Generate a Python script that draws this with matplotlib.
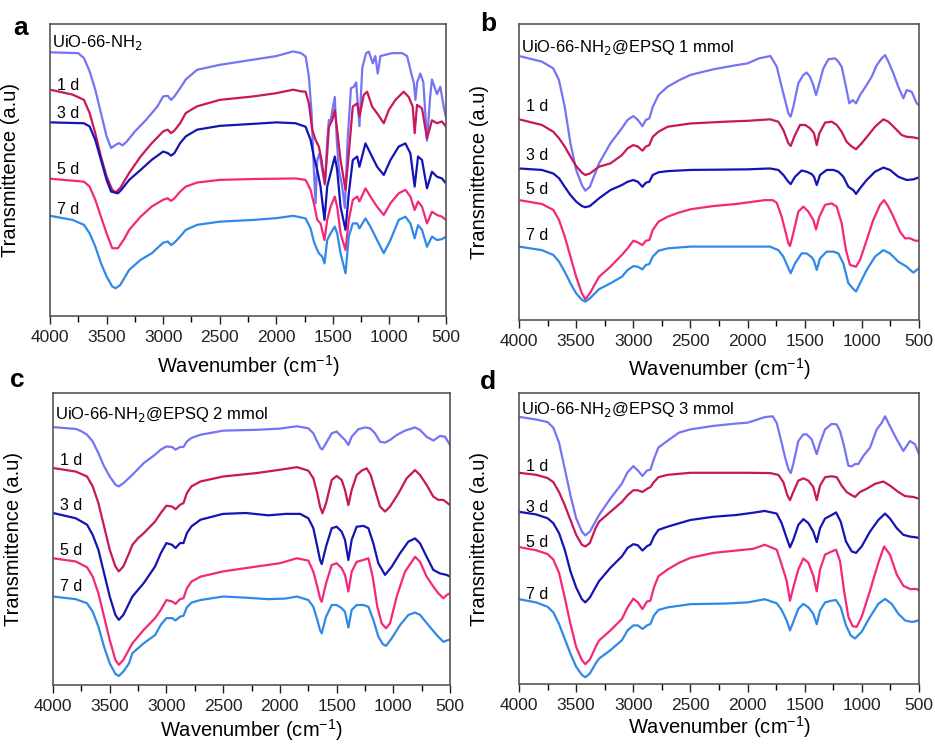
import numpy as np
import matplotlib
matplotlib.use("Agg")
import matplotlib.pyplot as plt
from matplotlib.ticker import MultipleLocator

plt.rcParams['font.family'] = ['Liberation Sans', 'DejaVu Sans']

# FTIR spectra: (wavenumber, transmittance a.u. 0-100)
# panel a: UiO-66-NH2
a_0d = [(4000, 90.3), (3750, 90), (3700, 88.3), (3650, 83.8), (3600, 77.5), (3550, 69.5), (3500, 61.5),
        (3460, 57.5), (3420, 58.6), (3390, 59.2), (3360, 58.4), (3320, 59.8), (3250, 63.2), (3150, 67.2),
        (3050, 71.8), (3000, 75.2), (2960, 75.4), (2930, 74), (2900, 75.2), (2850, 78), (2800, 81),
        (2700, 84.3), (2500, 86), (2200, 87.8), (2000, 89), (1850, 90.6), (1780, 90), (1740, 88.8),
        (1712, 82), (1688, 69.4), (1668, 50), (1653, 38.6), (1638, 53.4), (1618, 55.7), (1594, 50),
        (1570, 45), (1550, 60), (1535, 67.1), (1520, 67), (1483, 75), (1465, 60), (1447, 50), (1420, 45),
        (1394, 37), (1370, 60), (1340, 78), (1315, 78.5), (1294, 80), (1265, 65), (1240, 85), (1206, 90),
        (1182, 90.5), (1147, 86.5), (1125, 89), (1103, 83), (1080, 89), (977, 90), (888, 90), (844, 89),
        (800, 82), (785, 80), (770, 74), (755, 80), (727, 83), (700, 80), (668, 60), (640, 75), (624, 81),
        (580, 76), (550, 78.5), (515, 70.5), (500, 68)]
a_1d = [(4000, 77.5), (3800, 75.8), (3700, 74), (3650, 69.5), (3600, 62.6), (3550, 54.6), (3500, 47.8),
        (3450, 43.2), (3420, 42.3), (3380, 43.8), (3300, 49), (3200, 54.6), (3100, 59.2), (3000, 63.2),
        (2960, 63.8), (2930, 62.6), (2900, 63.5), (2850, 66), (2800, 69.5), (2700, 71.8), (2500, 74),
        (2200, 75.2), (2000, 76.3), (1850, 77.5), (1780, 76.9), (1741, 76.8), (1712, 72.8), (1682, 63.7),
        (1653, 60.3), (1624, 58), (1600, 53.4), (1571, 45.4), (1550, 55.7), (1535, 64.8), (1506, 67),
        (1483, 70.5), (1462, 63.7), (1432, 53.4), (1388, 43.2), (1359, 55.7), (1324, 71.7), (1285, 72.8),
        (1265, 68.3), (1227, 75.7), (1197, 76.8), (1153, 71.7), (1109, 69.4), (1050, 66), (1006, 70.5),
        (947, 74), (874, 76.8), (830, 75), (794, 71.7), (777, 62.6), (756, 72.3), (712, 71.1), (668, 60.8),
        (624, 67), (580, 66), (536, 66.6), (500, 64.8)]
a_3d = [(4000, 66.3), (3700, 66), (3650, 64.9), (3600, 60.3), (3550, 53.5), (3500, 46.6), (3460, 42.6),
        (3400, 42), (3370, 43.2), (3300, 46.6), (3200, 50), (3100, 53.5), (3000, 56.3), (2960, 55.8),
        (2930, 54.9), (2900, 55.8), (2850, 59.2), (2800, 61.5), (2700, 63.8), (2500, 65.1), (2200, 65.8),
        (2000, 66.3), (1830, 66), (1741, 64.8), (1697, 60.3), (1668, 54.6), (1638, 50), (1609, 44.3),
        (1574, 32.9), (1550, 44.3), (1520, 48.9), (1483, 54.6), (1462, 50), (1432, 37.4), (1388, 29.5),
        (1359, 42), (1324, 53.4), (1285, 54.6), (1265, 51.1), (1212, 59.1), (1168, 55.7), (1109, 51.1),
        (1050, 48.3), (991, 53.4), (918, 58), (859, 59.1), (815, 55.7), (777, 44.3), (747, 54.6),
        (712, 53.4), (668, 43.7), (624, 49.4), (580, 47.7), (536, 47.1), (500, 45.4)]
a_5d = [(4000, 47), (3700, 46), (3650, 44.3), (3600, 39.8), (3550, 34), (3500, 28.3), (3450, 23.2),
        (3400, 23.2), (3350, 26), (3300, 29.5), (3200, 34), (3100, 37.5), (3000, 39.8), (2960, 40.3),
        (2930, 39.4), (2900, 40.3), (2850, 42.6), (2800, 44.3), (2700, 45.7), (2500, 46.6), (2200, 46.9),
        (1830, 47.1), (1741, 46.6), (1697, 43.2), (1668, 38.6), (1638, 32.9), (1609, 31.7), (1574, 26),
        (1550, 32.9), (1520, 37.4), (1483, 40.9), (1462, 37.4), (1432, 28.3), (1388, 22.6), (1359, 32.9),
        (1324, 39.7), (1285, 40.9), (1265, 39.2), (1212, 43.7), (1168, 40.9), (1109, 37.4), (1050, 34.6),
        (991, 38.6), (918, 42), (859, 43.2), (815, 40.9), (777, 36.3), (747, 39.2), (712, 37.4),
        (668, 31.7), (624, 35.7), (580, 34.6), (536, 34), (500, 32.9)]
a_7d = [(4000, 34.3), (3800, 32.9), (3700, 31.2), (3650, 28.3), (3600, 23.8), (3550, 18.1), (3500, 13.5),
        (3450, 10.1), (3420, 9.5), (3380, 10.6), (3300, 15.8), (3200, 19.2), (3100, 21.5), (3000, 25.1),
        (2960, 25.5), (2930, 24.3), (2900, 25.1), (2850, 27.2), (2800, 29.5), (2700, 31.2), (2500, 32.3),
        (2200, 32.9), (2000, 33.5), (1850, 34.3), (1741, 33.4), (1697, 30), (1668, 25.5), (1638, 22.6),
        (1624, 21.5), (1594, 20.3), (1574, 18), (1550, 26), (1520, 28.3), (1483, 30.6), (1462, 28.3),
        (1432, 21.5), (1388, 14.6), (1359, 27.2), (1324, 31.7), (1285, 31.7), (1265, 30), (1212, 33.4),
        (1168, 30.6), (1109, 26), (1050, 21.5), (991, 26), (918, 32.9), (859, 34), (815, 31.7), (777, 26.6),
        (747, 31.1), (712, 29.5), (668, 23.7), (624, 27.2), (580, 26), (536, 26.3), (500, 27.2)]

# panel b: UiO-66-NH2@EPSQ 1 mmol
b_0d = [(4000, 89.2), (3800, 87.3), (3700, 85), (3650, 81), (3600, 72), (3550, 59.7), (3500, 50.7),
        (3450, 45.6), (3420, 43.7), (3380, 45), (3300, 52.9), (3200, 59.7), (3100, 64.8), (3050, 67.6),
        (3000, 68.9), (2960, 67.6), (2920, 65.5), (2890, 67.6), (2860, 68.1), (2830, 72), (2780, 76),
        (2700, 78.8), (2600, 81), (2500, 82.8), (2300, 84.7), (2100, 86.1), (2000, 86.7), (1900, 88.4),
        (1800, 89.2), (1745, 85.6), (1702, 78.8), (1672, 74.3), (1643, 69.8), (1623, 68.7), (1600, 72),
        (1556, 80), (1512, 82.8), (1483, 83.6), (1454, 82.2), (1425, 79.4), (1401, 76), (1381, 78.8),
        (1337, 85), (1293, 88.1), (1235, 88.4), (1206, 87.3), (1177, 85.6), (1139, 78.8), (1110, 73.2),
        (1080, 74.3), (1051, 73.2), (1016, 76), (958, 79.4), (914, 82.2), (870, 86.1), (827, 88.4),
        (797, 89.5), (768, 87.3), (724, 83.3), (681, 78.8), (637, 74.9), (608, 77.7), (564, 77.1),
        (520, 73.2), (500, 72.6)]
b_1d = [(4000, 67.8), (3800, 65.9), (3700, 63.6), (3650, 61.4), (3600, 58.6), (3550, 55.2), (3500, 52),
        (3450, 49.8), (3420, 49), (3380, 49.5), (3300, 51.8), (3200, 52.9), (3100, 55.7), (3050, 58),
        (3000, 59.1), (2960, 58.6), (2920, 57.2), (2890, 58.6), (2860, 59.1), (2830, 61.9), (2780, 63.6),
        (2700, 65.3), (2500, 66.4), (2200, 67), (2000, 67.3), (1804, 67.8), (1731, 67), (1687, 64.2),
        (1643, 59.7), (1623, 58.8), (1585, 62.5), (1541, 65.9), (1497, 65.9), (1454, 64.8), (1419, 63.1),
        (1395, 59.1), (1372, 63.1), (1322, 66.7), (1264, 67), (1220, 65.9), (1177, 63.6), (1133, 60.2),
        (1089, 58.6), (1051, 57.7), (1002, 59.7), (943, 62.5), (885, 65.3), (812, 67.8), (768, 67),
        (710, 64.8), (652, 62.5), (608, 61.9), (550, 61.7), (500, 61.3)]
b_3d = [(4000, 51.2), (3800, 50.7), (3700, 49.5), (3650, 47.9), (3600, 45), (3550, 42.2), (3500, 40),
        (3450, 38.5), (3420, 38.1), (3380, 38.5), (3300, 41.1), (3200, 43.9), (3100, 45.6), (3050, 46.7),
        (3000, 47.3), (2960, 46.7), (2920, 45), (2890, 46.4), (2860, 46.7), (2830, 49), (2780, 49.9),
        (2700, 50.3), (2500, 50.7), (2000, 50.9), (1804, 51.2), (1731, 50.7), (1687, 49), (1643, 46.7),
        (1623, 45.9), (1585, 48.4), (1527, 50.5), (1483, 50.1), (1439, 49.3), (1419, 48.4), (1395, 45.6),
        (1366, 49), (1308, 50.7), (1250, 50.7), (1206, 50.1), (1162, 48.4), (1118, 45), (1075, 43.9),
        (1051, 42.6), (1016, 44.5), (958, 47.3), (885, 50.1), (812, 51.5), (754, 50.7), (681, 48.4),
        (608, 47.3), (550, 47.5), (500, 48.2)]
b_5d = [(4000, 40.5), (3800, 39.2), (3700, 37.2), (3650, 33.8), (3600, 28.2), (3550, 21.4), (3500, 14.6),
        (3450, 9), (3420, 7), (3380, 9), (3300, 14.6), (3200, 18), (3100, 22), (3050, 24.2), (3000, 26.8),
        (2960, 26.2), (2920, 25.3), (2890, 26.8), (2860, 27), (2830, 30.4), (2780, 33.2), (2700, 34.9),
        (2600, 36.3), (2500, 37.4), (2300, 38.5), (2100, 39.2), (1850, 40.5), (1780, 40.5), (1745, 39.6),
        (1702, 34.9), (1672, 30.4), (1643, 25.9), (1629, 25), (1600, 29.3), (1556, 36.6), (1512, 38.3),
        (1468, 36.6), (1425, 33.8), (1401, 30.6), (1372, 34.9), (1322, 38.9), (1264, 39.4), (1220, 38.3),
        (1177, 32.7), (1139, 23.6), (1104, 18.6), (1051, 18), (1016, 20.3), (958, 27), (900, 33.8),
        (841, 38.9), (806, 40.5), (768, 38.3), (724, 34.9), (666, 29.8), (622, 27.6), (579, 27.6),
        (535, 26.8), (500, 26.8)]
b_7d = [(4000, 24.8), (3800, 23.6), (3700, 22), (3650, 19.7), (3600, 16.3), (3550, 12.4), (3500, 9),
        (3450, 6.8), (3420, 6.2), (3380, 7.3), (3300, 10.4), (3200, 12.4), (3100, 14.6), (3050, 16.9),
        (3000, 18.2), (2960, 18), (2920, 17.1), (2890, 18.6), (2860, 18.9), (2830, 21.4), (2780, 23.4),
        (2700, 24.2), (2500, 24.8), (2000, 24.8), (1804, 24.8), (1731, 23.6), (1687, 21.4), (1643, 17.5),
        (1623, 15.8), (1585, 19.1), (1527, 22.5), (1483, 22.5), (1439, 21.2), (1419, 20), (1395, 16.9),
        (1366, 20.8), (1308, 23.1), (1250, 23.1), (1206, 22.5), (1162, 19.1), (1118, 12.4), (1080, 10.7),
        (1051, 9.6), (1016, 12.4), (958, 16.9), (885, 21.4), (812, 23.6), (754, 22.5), (681, 19.7),
        (608, 18), (550, 16), (500, 17.5)]

# panel c: UiO-66-NH2@EPSQ 2 mmol
c_0d = [(4000, 88.3), (3800, 87.7), (3750, 86.9), (3700, 85.7), (3650, 83.4), (3600, 79.4), (3550, 74.9),
        (3500, 71.4), (3450, 68.6), (3420, 68), (3380, 69.1), (3300, 72), (3200, 76), (3100, 78.9),
        (3050, 80.6), (3000, 81.7), (2950, 81.5), (2920, 80.6), (2880, 81.5), (2850, 81.5), (2820, 83.4),
        (2780, 84.6), (2700, 85.7), (2500, 87.1), (2200, 87.4), (2000, 87.8), (1850, 88.6), (1749, 87.9),
        (1705, 86.2), (1670, 83.3), (1640, 81), (1625, 80.7), (1593, 82.8), (1543, 86.2), (1499, 86.8),
        (1455, 85), (1426, 83.9), (1396, 82.2), (1367, 85), (1308, 87.6), (1249, 88.2), (1205, 87.9),
        (1161, 86.2), (1117, 83.3), (1073, 83), (1029, 83.9), (970, 85.6), (897, 87.1), (808, 88.2),
        (764, 87.3), (706, 85), (647, 83.7), (588, 85.3), (544, 85), (500, 82.2)]
c_1d = [(4000, 74.3), (3800, 73.1), (3700, 71.4), (3650, 68), (3600, 62.3), (3550, 54.3), (3500, 46.3),
        (3450, 40.6), (3420, 38.9), (3380, 40.6), (3330, 45.1), (3300, 48), (3250, 50.3), (3200, 52),
        (3100, 56), (3050, 58.9), (3000, 61.4), (2950, 61.1), (2920, 60.2), (2880, 61.7), (2850, 62.3),
        (2820, 65.7), (2780, 68), (2700, 69.7), (2500, 71.4), (2200, 72.6), (2000, 73.7), (1850, 74.6),
        (1749, 73.4), (1705, 70.8), (1670, 65.6), (1646, 61.1), (1625, 58.8), (1593, 62.2), (1543, 70.2),
        (1499, 71.6), (1455, 70.2), (1426, 66.8), (1396, 61.6), (1367, 66.8), (1323, 71.9), (1279, 73.4),
        (1235, 74.2), (1199, 71.9), (1161, 66.8), (1117, 61.1), (1073, 59.4), (1029, 61.1), (955, 65.6),
        (882, 70.8), (808, 73.6), (764, 71.9), (706, 68.5), (647, 64.5), (603, 63.4), (559, 63.4),
        (500, 61.6)]
c_3d = [(4000, 58.9), (3800, 57.1), (3700, 54.9), (3650, 51.4), (3600, 46.3), (3550, 38.3), (3500, 30.3),
        (3450, 24), (3420, 22.3), (3380, 24), (3300, 30.3), (3200, 34.9), (3100, 40.6), (3050, 45.1),
        (3000, 48.6), (2950, 48), (2920, 46.9), (2880, 48.6), (2850, 48.6), (2820, 52), (2780, 54.3),
        (2700, 56.6), (2500, 58.6), (2300, 58.9), (2100, 58.1), (1950, 58.6), (1822, 58.6), (1749, 57.1),
        (1705, 53.7), (1670, 47.4), (1646, 42.8), (1631, 41.4), (1593, 47.4), (1543, 53.7), (1499, 54.2),
        (1455, 52.5), (1426, 49.7), (1396, 42.8), (1367, 49.7), (1323, 54.2), (1264, 54.5), (1220, 53.7),
        (1176, 48.5), (1132, 41.7), (1073, 37.7), (1014, 40.5), (941, 45.1), (867, 49.1), (808, 50.2),
        (764, 48.5), (706, 43.9), (647, 39.4), (588, 38.2), (529, 37.7), (500, 37.1)]
c_5d = [(4000, 43.4), (3800, 42.3), (3700, 40.3), (3650, 37.1), (3600, 31.4), (3550, 23.4), (3500, 15.4),
        (3450, 8.6), (3420, 6.9), (3380, 8.6), (3300, 14.3), (3250, 16.6), (3200, 18.9), (3100, 22.9),
        (3050, 25.7), (3000, 29.1), (2950, 28.6), (2920, 27.8), (2880, 29.4), (2850, 29.7), (2820, 33.1),
        (2780, 35.4), (2700, 37.1), (2500, 38.9), (2200, 40.6), (2000, 41.7), (1850, 43.4), (1749, 42.6),
        (1705, 38.8), (1670, 33.7), (1646, 29.7), (1631, 28.5), (1593, 34.8), (1543, 41.1), (1499, 41.7),
        (1455, 40), (1426, 37.7), (1396, 32), (1367, 38.8), (1323, 42.2), (1264, 42.8), (1220, 43.4),
        (1182, 37.1), (1141, 26.8), (1102, 21.1), (1064, 19.4), (1029, 21.1), (970, 30.3), (897, 38.8),
        (808, 43.9), (764, 42.2), (706, 37.1), (647, 33.7), (603, 31.4), (559, 29.7), (529, 30.8),
        (500, 31.4)]
c_7d = [(4000, 30.3), (3800, 29.4), (3700, 28), (3650, 25.1), (3600, 20), (3550, 13.1), (3500, 7.4),
        (3450, 3.8), (3420, 3.1), (3380, 4.6), (3330, 7.4), (3300, 10.9), (3200, 14.3), (3100, 17.1),
        (3050, 20.6), (3000, 22.9), (2950, 22.9), (2920, 22.1), (2880, 23.4), (2850, 23.7), (2820, 26.6),
        (2780, 28.2), (2700, 29.1), (2500, 30.3), (2300, 29.9), (2100, 29.4), (1950, 29.6), (1850, 30.3),
        (1749, 29.1), (1705, 26.8), (1670, 22.3), (1646, 18.8), (1631, 17.7), (1593, 23.4), (1543, 27.4),
        (1499, 27.4), (1455, 26.3), (1426, 25.1), (1396, 19.7), (1367, 25.7), (1323, 27.4), (1264, 27.4),
        (1220, 26.8), (1176, 22.3), (1132, 16.6), (1093, 14), (1064, 13.4), (1014, 16), (941, 20.5),
        (867, 24), (808, 24.8), (764, 24), (691, 20.5), (617, 17.1), (559, 14.8), (500, 15.6)]

# panel d: UiO-66-NH2@EPSQ 3 mmol
d_0d = [(4000, 91.8), (3850, 90.9), (3750, 90), (3700, 88.1), (3650, 83), (3600, 74), (3550, 64.9),
        (3500, 57), (3450, 52.4), (3420, 51.1), (3380, 52.4), (3300, 58.1), (3200, 63.8), (3100, 68.9),
        (3050, 72.8), (3000, 74.9), (2960, 73.4), (2920, 71.5), (2880, 73.4), (2850, 73.7), (2820, 77.3),
        (2780, 81.3), (2700, 83.6), (2600, 86.4), (2500, 87.5), (2300, 88.7), (2100, 89.5), (2000, 89.8),
        (1850, 91.7), (1780, 92), (1745, 89.7), (1702, 82.9), (1672, 77.9), (1643, 73.9), (1623, 72.5),
        (1600, 75.6), (1556, 83.5), (1512, 85.8), (1483, 85.8), (1439, 84.1), (1410, 80.7), (1395, 79),
        (1366, 82.9), (1322, 87.5), (1264, 89.4), (1220, 89.2), (1191, 86.9), (1156, 81.8), (1118, 75),
        (1089, 74.8), (1060, 75.6), (1031, 75.6), (987, 78.4), (929, 81.2), (870, 87.5), (827, 89.7),
        (797, 92), (754, 88.6), (695, 84.1), (637, 80.1), (579, 83.5), (535, 82.4), (500, 79)]
d_1d = [(4000, 72.6), (3850, 71.9), (3750, 70.8), (3700, 69.4), (3650, 66), (3600, 61.5), (3550, 56.4),
        (3500, 51.3), (3450, 47.9), (3420, 47.3), (3380, 48.5), (3330, 53.6), (3300, 55.8), (3200, 59.2),
        (3100, 62.6), (3050, 64.9), (3000, 66.6), (2960, 66.6), (2920, 66), (2880, 67.1), (2850, 67.7),
        (2820, 69.4), (2780, 71.1), (2700, 71.9), (2500, 72.6), (2000, 72.6), (1804, 72.5), (1731, 71.9),
        (1687, 69.4), (1652, 64.9), (1629, 63.2), (1600, 66), (1556, 69.9), (1512, 70.7), (1468, 69.9),
        (1425, 67.7), (1395, 63.2), (1366, 68.2), (1322, 71.1), (1264, 71.4), (1220, 71.1), (1177, 68.2),
        (1133, 66), (1089, 64.9), (1060, 64.3), (1016, 66), (958, 67.1), (885, 68.8), (812, 69.6),
        (754, 68.2), (681, 66), (622, 64.6), (550, 64.3), (500, 63.7)]
d_3d = [(4000, 59.2), (3850, 58.3), (3750, 57), (3700, 55.3), (3650, 51.9), (3600, 46.2), (3550, 38.8),
        (3500, 33.2), (3450, 29.2), (3420, 28.1), (3380, 29.8), (3300, 35.4), (3200, 40), (3100, 43.9),
        (3050, 46.8), (3000, 48.1), (2960, 47.7), (2920, 45.9), (2880, 47.4), (2850, 48), (2820, 50.7),
        (2780, 53), (2700, 54.1), (2500, 56.4), (2300, 57.5), (2100, 58.1), (1950, 58.9), (1850, 59.5),
        (1745, 58.6), (1702, 55.3), (1658, 50.2), (1629, 47), (1600, 49.6), (1556, 54.7), (1512, 56.7),
        (1468, 55.3), (1425, 52.4), (1395, 48.8), (1366, 53.6), (1322, 56.9), (1264, 58.1), (1226, 59),
        (1185, 55.8), (1139, 49), (1089, 45.6), (1051, 45.1), (1002, 47.3), (929, 52.4), (856, 56.4),
        (797, 58.6), (754, 56.9), (695, 53.6), (637, 51.3), (579, 50.7), (520, 50.4), (500, 50.2)]
d_5d = [(4000, 47.1), (3850, 46), (3750, 44.7), (3700, 42.8), (3650, 38.3), (3600, 29.8), (3550, 20.7),
        (3500, 12.8), (3450, 8.3), (3420, 6.9), (3380, 8.5), (3330, 12.8), (3300, 15), (3200, 18.5),
        (3100, 22.4), (3050, 26.4), (3000, 29.4), (2960, 28.1), (2920, 25.8), (2880, 28.4), (2850, 28.7),
        (2820, 33.2), (2780, 37.1), (2700, 39.4), (2600, 41.7), (2500, 43.4), (2300, 45.1), (2100, 45.9),
        (1950, 46.5), (1850, 47.9), (1745, 46.2), (1702, 41.1), (1658, 35.5), (1629, 28.7), (1600, 33.2),
        (1556, 39.4), (1512, 43.2), (1468, 41.7), (1425, 37.2), (1395, 31.9), (1366, 39.4), (1322, 44.5),
        (1264, 45.6), (1226, 46.2), (1191, 42.3), (1156, 32.1), (1118, 23.1), (1080, 19.9), (1045, 19.7),
        (1002, 23.1), (929, 32.1), (856, 41.7), (806, 47.3), (754, 44.5), (695, 37.7), (637, 33.8),
        (579, 32.7), (520, 32.7), (500, 32.1)]
d_7d = [(4000, 29.2), (3850, 28.1), (3750, 26.6), (3700, 24.7), (3650, 20.7), (3600, 15.6), (3550, 10.5),
        (3500, 6), (3450, 3.2), (3420, 2.4), (3380, 3.7), (3330, 7.1), (3300, 8.8), (3200, 11.7),
        (3100, 15.1), (3050, 18.5), (3000, 20.2), (2960, 20.2), (2920, 19), (2880, 20.2), (2850, 20.7),
        (2820, 23.6), (2780, 25.5), (2700, 26.4), (2500, 27.5), (2200, 27.7), (2000, 28.1), (1850, 29.2),
        (1745, 27.8), (1702, 25.5), (1658, 21.9), (1629, 18.5), (1600, 21.4), (1556, 25.9), (1512, 27.6),
        (1468, 26.4), (1425, 24.2), (1395, 20.6), (1366, 25.3), (1322, 28.1), (1264, 28.7), (1226, 28.9),
        (1185, 26.4), (1139, 20.2), (1098, 16.8), (1060, 15.7), (1002, 18), (929, 23.1), (856, 27.6),
        (797, 29.3), (739, 27.6), (681, 24.2), (622, 21.9), (564, 21.4), (520, 21.7), (500, 22.1)]

days = ['1 d', '3 d', '5 d', '7 d']
titles = ['UiO-66-NH$_2$', 'UiO-66-NH$_2$@EPSQ 1 mmol',
          'UiO-66-NH$_2$@EPSQ 2 mmol', 'UiO-66-NH$_2$@EPSQ 3 mmol']
letters = ['a', 'b', 'c', 'd']
colors = ['#7474F4', '#C8175C', '#1414B4', '#F4287A', '#2E8AE6']

panels = [
    dict(curves=[a_0d, a_1d, a_3d, a_5d, a_7d], rect=[0.0535, 0.5753, 0.4235, 0.3925],
         dlab=[0.79, 0.695, 0.50, 0.366], tlab=0.935, letter=(0.022, 0.962), pad=6),
    dict(curves=[b_0d, b_1d, b_3d, b_5d, b_7d], rect=[0.5551, 0.5699, 0.4278, 0.3978],
         dlab=[0.72, 0.557, 0.44, 0.284], tlab=0.922, letter=(0.522, 0.968), pad=5),
    dict(curves=[c_0d, c_1d, c_3d, c_5d, c_7d], rect=[0.0567, 0.0793, 0.4246, 0.3925],
         dlab=[0.77, 0.613, 0.462, 0.336], tlab=0.925, letter=(0.018, 0.489), pad=2),
    dict(curves=[d_0d, d_1d, d_3d, d_5d, d_7d], rect=[0.5551, 0.0803, 0.4278, 0.3915],
         dlab=[0.749, 0.607, 0.485, 0.308], tlab=0.942, letter=(0.522, 0.486), pad=1),
]

fig = plt.figure(figsize=(9.35, 7.44), dpi=100)

for i, p in enumerate(panels):
    ax = fig.add_axes(p['rect'])
    for curve, col in zip(p['curves'], colors):
        wn, tr = np.array(curve).T
        ax.plot(wn, tr, color=col, lw=1.6)
    ax.set_xlim(4000, 500)
    ax.set_ylim(0, 100)
    ax.xaxis.set_major_locator(MultipleLocator(500))
    ax.xaxis.set_minor_locator(MultipleLocator(250))
    ax.tick_params(axis='x', which='major', direction='out', length=6, width=1, labelsize=12.5,
                   colors='#222222', pad=4)
    ax.tick_params(axis='x', which='minor', direction='out', length=4, width=1)
    ax.set_yticks([])
    for s in ax.spines.values():
        s.set_color('#555555')
        s.set_linewidth(1.2)
    ax.set_xlabel('Wavenumber (cm$^{\\mathregular{-1}}$)', fontsize=14.5, labelpad=p['pad'])
    ax.set_ylabel('Transmittence (a.u)', fontsize=14.5)
    ax.yaxis.set_label_coords(-0.076, 0.5)
    ax.text(0.006, p['tlab'], titles[i], transform=ax.transAxes, fontsize=12, va='center', ha='left')
    for lab, fy in zip(days, p['dlab']):
        ax.text(0.018, fy, lab, transform=ax.transAxes, fontsize=11.5, va='center', ha='left')
    fig.text(p['letter'][0], p['letter'][1], letters[i], fontsize=19, fontweight='bold',
             ha='center', va='center')

fig.savefig('out.png', dpi=100)
